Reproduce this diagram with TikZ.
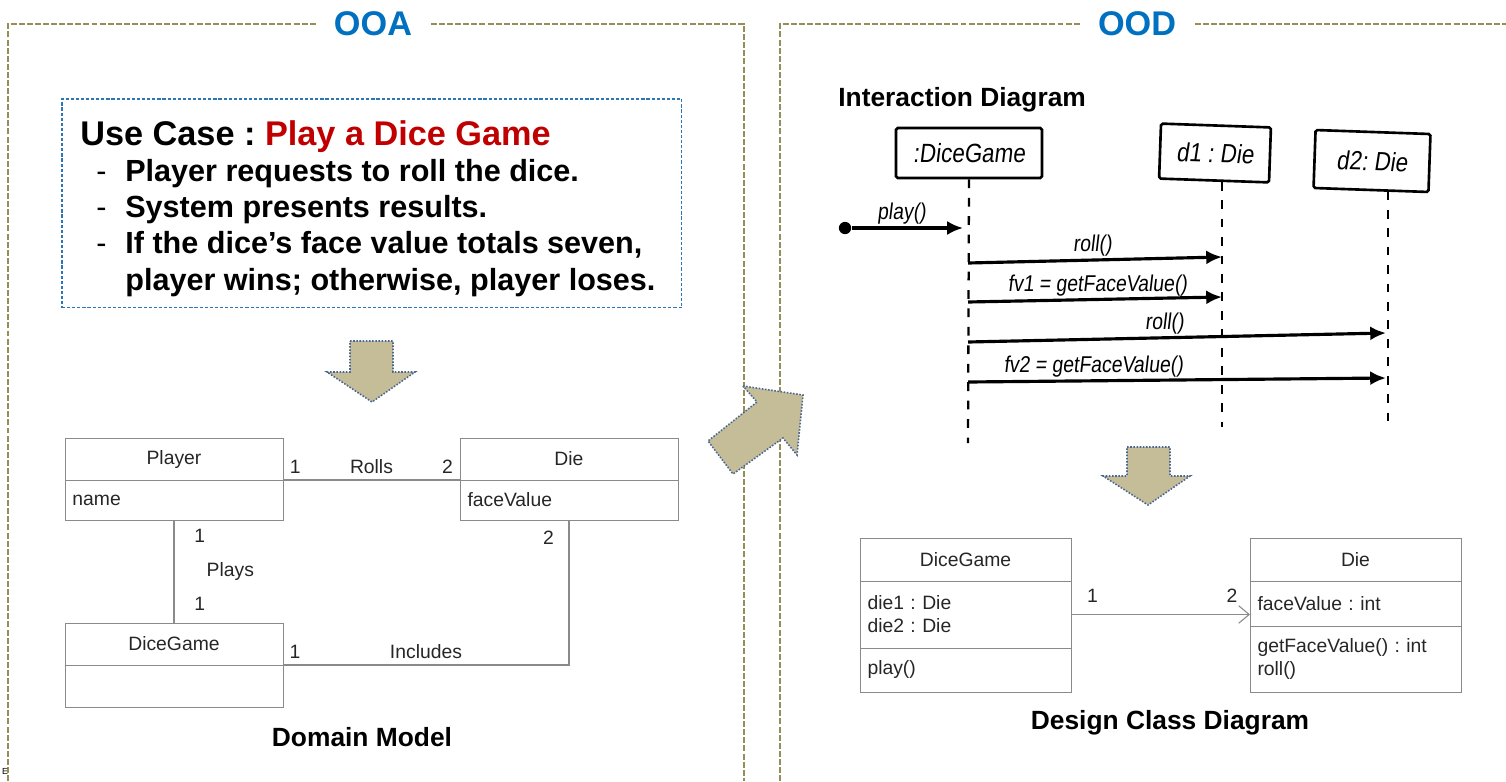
\documentclass[tikz,border=0pt]{standalone}
\usepackage{fontspec}
\setmainfont{Liberation Sans}
\newfontfamily\handfont{Liberation Sans}[FakeSlant=0.12, FakeStretch=0.85]
\usepackage{tikz}
\usetikzlibrary{arrows.meta, positioning}
\definecolor{frameolive}{HTML}{968D58}
\definecolor{titleblue}{HTML}{0070C0}
\definecolor{casered}{HTML}{C00000}
\definecolor{caseblue}{HTML}{2E75B6}
\definecolor{arrowtan}{HTML}{C4BD97}
\definecolor{arrowedge}{HTML}{4A6794}
\definecolor{umlgray}{HTML}{8A8A8A}
\frenchspacing

\begin{document}
\begin{tikzpicture}[
    x=0.02cm, y=-0.02cm,
    frame/.style      = {draw=frameolive, line width=1.2pt, dash pattern=on 3.4pt off 1.2pt},
    paneltitle/.style = {fill=white, inner xsep=10pt, inner ysep=2pt, text=titleblue,
                         font=\bfseries\fontsize{19.5}{22}\selectfont},
    casebox/.style    = {draw=caseblue, line width=0.6pt, dash pattern=on 1.8pt off 1.1pt,
                         minimum width=12.4cm, minimum height=4.18cm, inner sep=0pt, outer sep=0pt},
    caseline/.style   = {anchor=base west, inner sep=0pt, font=\bfseries\fontsize{17.4}{21}\selectfont},
    casedash/.style   = {anchor=base west, inner sep=0pt, font=\fontsize{17.4}{21}\selectfont},
    caption/.style    = {inner sep=0pt, font=\bfseries\fontsize{15}{18}\selectfont},
    bigarrow/.style   = {fill=arrowtan, draw=arrowedge, line width=0.9pt, dash pattern=on 0.9pt off 0.9pt},
    umlhead/.style    = {draw=umlgray, line width=0.5pt, minimum width=#1, minimum height=0.84cm,
                         inner sep=0pt, outer sep=0pt, text=black!85, font=\fontsize{11}{13}\selectfont},
    umlbody/.style    = {draw=umlgray, line width=0.5pt, text width=#1, align=left, inner xsep=0.15cm,
                         inner ysep=0pt, outer sep=0pt, text=black!85, font=\fontsize{11}{13}\selectfont},
    umlline/.style    = {draw=umlgray, line width=0.6pt},
    umllabel/.style   = {text=black!85, font=\fontsize{11}{13}\selectfont},
    handbox/.style    = {draw, line width=1.5pt, rounded corners=1pt, inner sep=2pt,
                         font=\handfont\fontsize{15}{17}\selectfont},
    lifeline/.style   = {line width=1.3pt, dash pattern=on 5pt off 5.5pt},
    msg/.style        = {line width=1.8pt, -{Latex[length=9pt, width=8pt]}},
    msglabel/.style   = {inner sep=1pt, font=\handfont\fontsize{13}{15}\selectfont}
  ]
  \useasboundingbox (0,0) rectangle (1506,781);

  % panels
  \draw[frame] (8,781) -- (8,24) -- (744,24) -- (744,781);
  \draw[frame] (780,781) -- (780,24) -- (1510,24);
  \node[paneltitle] (ooa) at (373,24) {OOA};
  \node[paneltitle] (ood) at (1137,24) {OOD};
  \node[inner sep=0pt, font=\fontsize{5}{6}\selectfont] (footmark) at (5,771) {E};

  % use case
  \node[casebox, anchor=north west] (usecase) at (62,99) {};
  \node[caseline, font=\bfseries\fontsize{19.5}{22}\selectfont] (ucname) at (80,145)
       {Use Case : \textcolor{casered}{Play a Dice Game}};
  \node[casedash] (dash1) at (96,181) {-};
  \node[caseline] (item1) at (125,181) {Player requests to roll the dice.};
  \node[casedash] (dash2) at (96,217) {-};
  \node[caseline] (item2) at (125,217) {System presents results.};
  \node[casedash] (dash3) at (96,253) {-};
  \node[caseline] (item3) at (125,253) {If the dice’s face value totals seven,};
  \node[caseline] (item3b) at (125,290) {player wins; otherwise, player loses.};

  % big arrows
  \draw[bigarrow] (350,341) -- (393,341) -- (393,372) -- (415,372) -- (372,402)
                  -- (327,372) -- (350,372) -- cycle;
  \draw[bigarrow] (743,386) -- (803,395) -- (797,455) -- (783,438) -- (733,474)
                  -- (708,441) -- (757,402) -- cycle;
  \draw[bigarrow] (1127,447) -- (1170,447) -- (1170,476) -- (1190,476) -- (1148,505)
                  -- (1103,476) -- (1127,476) -- cycle;

  % domain model
  \node[umlhead=4.36cm, anchor=north west] (player) at (65,438) {Player};
  \node[umlbody=4.06cm, minimum height=0.8cm, below=0pt of player] (playerattr) {name};
  \node[umlhead=4.36cm, anchor=north west] (die) at (460,438) {Die};
  \node[umlbody=4.06cm, minimum height=0.8cm, below=0pt of die] (dieattr) {faceValue};
  \node[umlhead=4.36cm, anchor=north west] (dicegame) at (65,623) {DiceGame};
  \node[umlbody=4.06cm, minimum height=0.84cm, below=0pt of dicegame] (dicegameattr) {};

  \draw[umlline] (player.south east)
      -- node[umllabel, pos=0.07, above] {1} node[umllabel, midway, above] {Rolls}
         node[umllabel, pos=0.93, above] {2} (die.south west);
  \draw[umlline] (playerattr.south)
      -- node[umllabel, pos=0.15, right=8pt] {1} node[umllabel, midway, right=15pt] {Plays}
         node[umllabel, pos=0.81, right=8pt] {1} (dicegame.north);
  \draw[umlline] (dicegame.south east)
      -| node[umllabel, pos=0.021, above] {1} node[umllabel, pos=0.25, above] {Includes}
         node[umllabel, pos=0.94, left=5pt] {2} (dieattr.south);

  \node[caption] (domaincap) at (362,737) {Domain Model};

  % interaction diagram
  \node[caption, anchor=west] (interactcap) at (838,100) {Interaction Diagram};
  \node[handbox, minimum width=2.92cm, minimum height=1cm] (dgobj) at (969,153) {:DiceGame};
  \node[handbox, minimum width=2.2cm, minimum height=1.1cm, rotate=-2] (d1obj) at (1215,153) {d1 : Die};
  \node[handbox, minimum width=2.3cm, minimum height=1.16cm, rotate=-2] (d2obj) at (1372,161) {d2: Die};

  \coordinate (dgend) at (968,443);
  \coordinate (d1end) at (1222,427);
  \coordinate (d2end) at (1388,430);
  \draw[lifeline] (dgobj.south) -- (dgend);
  \draw[lifeline] (d1obj.south -| d1end) -- (d1end);
  \draw[lifeline] (d2obj.south -| d2end) -- (d2end);

  \node[circle, fill, inner sep=0pt, minimum size=7pt] (playdot) at (845,228) {};
  \coordinate (playend) at (963,228);
  \coordinate (m1s) at (968,263);  \coordinate (m1e) at (1222,257);
  \coordinate (m2s) at (968,302);  \coordinate (m2e) at (1222,297);
  \coordinate (m3s) at (968,342);  \coordinate (m3e) at (1386,333);
  \coordinate (m4s) at (968,382);  \coordinate (m4e) at (1386,378);

  \draw[msg] (playdot) -- node[msglabel, pos=0.45, above] {play()} (playend);
  \draw[msg] (m1s) -- node[msglabel, pos=0.49, above] {roll()} (m1e);
  \draw[msg] (m2s) -- node[msglabel, pos=0.51, above] {fv1 = getFaceValue()} (m2e);
  \draw[msg] (m3s) -- node[msglabel, pos=0.47, above] {roll()} (m3e);
  \draw[msg] (m4s) -- node[msglabel, pos=0.30, above] {fv2 = getFaceValue()} (m4e);

  % design class diagram
  \node[umlhead=4.22cm, minimum height=0.86cm, anchor=north west] (dgclass) at (860,538) {DiceGame};
  \node[umlbody=3.92cm, minimum height=1.34cm, below=0pt of dgclass] (dgattr) {die1 : Die\\die2 : Die};
  \node[umlbody=3.92cm, minimum height=0.88cm, below=0pt of dgattr] (dgops) {play()};
  \node[umlhead=4.22cm, minimum height=0.86cm, anchor=north west] (dieclass) at (1250,538) {Die};
  \node[umlbody=3.92cm, minimum height=0.9cm, below=0pt of dieclass] (dieclassattr) {faceValue : int};
  \node[umlbody=3.92cm, minimum height=1.32cm, below=0pt of dieclassattr] (dieclassops)
       {getFaceValue() : int\\roll()};

  \draw[umlline, -{Straight Barb[length=6pt, width=10pt]}] (dgattr.east)
      -- node[umllabel, pos=0.12, above=3pt] {1} node[umllabel, pos=0.9, above=3pt] {2}
         (dgattr.east -| dieclassattr.west);

  \node[caption] (designcap) at (1170,723) {Design Class Diagram};
\end{tikzpicture}
\end{document}
